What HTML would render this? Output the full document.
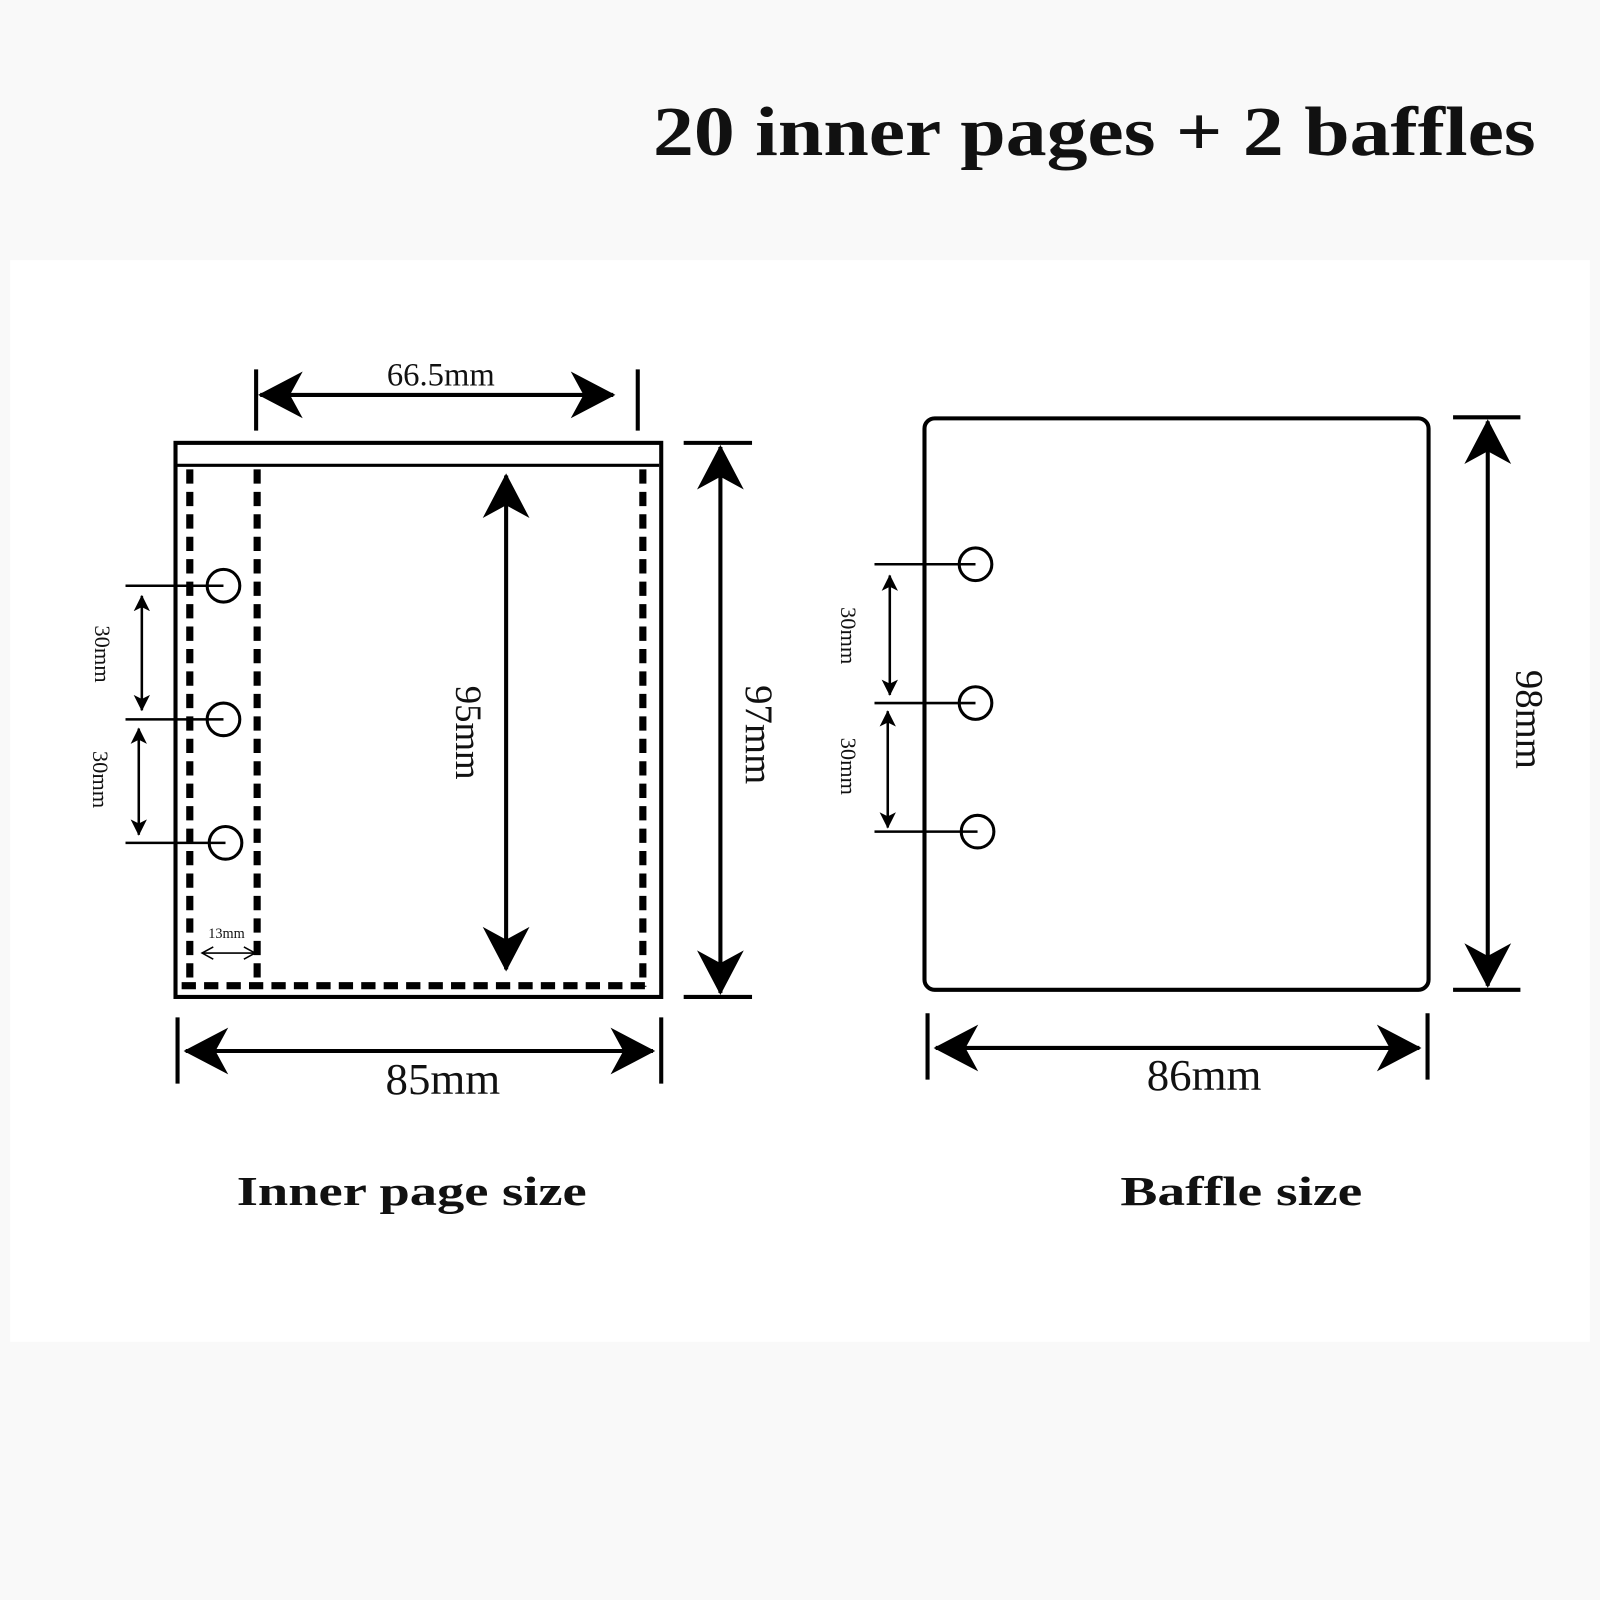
<!DOCTYPE html>
<html><head><meta charset="utf-8"><style>
html,body{margin:0;padding:0;background:#f9f9f9;}
svg{display:block;}
text{font-family:"Liberation Serif",serif;fill:#111;}
</style></head><body>
<svg width="1600" height="1600" viewBox="0 0 1568 1568" xmlns="http://www.w3.org/2000/svg">
<defs>
<marker id="ah" markerUnits="userSpaceOnUse" markerWidth="50" markerHeight="50" viewBox="0 -24 44 48" refX="40" refY="0" orient="auto-start-reverse">
<path d="M42,0 L0,-22 L12,0 L0,22 Z" fill="#000"/>
</marker>
<marker id="as" markerUnits="userSpaceOnUse" markerWidth="20" markerHeight="20" viewBox="0 -10 20 20" refX="15" refY="0" orient="auto-start-reverse">
<path d="M16,0 L0,-8 L4,0 L0,8 Z" fill="#000"/>
</marker>
<marker id="ao" markerUnits="userSpaceOnUse" markerWidth="14" markerHeight="14" viewBox="0 -7 14 14" refX="12" refY="0" orient="auto-start-reverse">
<path d="M1,-6 L12,0 L1,6" fill="none" stroke="#000" stroke-width="1.5"/>
</marker>
</defs>
<rect x="0" y="0" width="1568" height="1568" fill="#f9f9f9"/>
<rect x="10" y="255" width="1548" height="1060" fill="#fff"/>

<text x="640" y="152" font-size="68" font-weight="bold" textLength="865" lengthAdjust="spacingAndGlyphs">20 inner pages + 2 baffles</text>

<!-- LEFT -->
<g stroke="#000" fill="none">
<rect x="172" y="434" width="476" height="543" stroke-width="4"/>
<line x1="172" y1="456" x2="646" y2="456" stroke-width="3"/>
<g stroke-width="7" stroke-dasharray="14 8">
<line x1="186" y1="460" x2="186" y2="967"/>
<line x1="252" y1="460" x2="252" y2="967"/>
<line x1="630" y1="460" x2="630" y2="967"/>
<line x1="178" y1="966" x2="636" y2="966"/>
</g>
<g stroke-width="3">
<circle cx="219" cy="574" r="16"/><circle cx="219" cy="705" r="16"/><circle cx="221" cy="826" r="16"/>
<line x1="123" y1="574" x2="219" y2="574" stroke-width="2.5"/>
<line x1="123" y1="705" x2="219" y2="705" stroke-width="2.5"/>
<line x1="123" y1="826" x2="221" y2="826" stroke-width="2.5"/>
</g>
<line x1="139" y1="584" x2="139" y2="696" stroke-width="2.5" marker-start="url(#as)" marker-end="url(#as)"/>
<line x1="136" y1="714" x2="136" y2="818" stroke-width="2.5" marker-start="url(#as)" marker-end="url(#as)"/>
<line x1="198" y1="934" x2="250" y2="934" stroke-width="1.5" marker-start="url(#ao)" marker-end="url(#ao)"/>
<line x1="496" y1="466" x2="496" y2="950" stroke-width="4" marker-start="url(#ah)" marker-end="url(#ah)"/>
<line x1="251" y1="362" x2="251" y2="422" stroke-width="4"/>
<line x1="625" y1="362" x2="625" y2="422" stroke-width="4"/>
<line x1="255" y1="387" x2="601" y2="387" stroke-width="4" marker-start="url(#ah)" marker-end="url(#ah)"/>
<line x1="670" y1="434" x2="737" y2="434" stroke-width="4"/>
<line x1="670" y1="977" x2="737" y2="977" stroke-width="4"/>
<line x1="706" y1="438" x2="706" y2="973" stroke-width="4" marker-start="url(#ah)" marker-end="url(#ah)"/>
<line x1="174" y1="997" x2="174" y2="1062" stroke-width="4"/>
<line x1="648" y1="997" x2="648" y2="1062" stroke-width="4"/>
<line x1="182" y1="1030" x2="640" y2="1030" stroke-width="4" marker-start="url(#ah)" marker-end="url(#ah)"/>
</g>
<text x="432" y="378" font-size="32" text-anchor="middle">66.5mm</text>
<text x="222" y="919" font-size="14" text-anchor="middle">13mm</text>
<text transform="translate(93,641) rotate(90)" font-size="22" text-anchor="middle">30mm</text>
<text transform="translate(91,764) rotate(90)" font-size="22" text-anchor="middle">30mm</text>
<text transform="translate(447,718) rotate(90)" font-size="36" text-anchor="middle">95mm</text>
<text transform="translate(731,720) rotate(90)" font-size="38" text-anchor="middle">97mm</text>
<text x="434" y="1072" font-size="44" text-anchor="middle">85mm</text>
<text x="232" y="1181" font-size="40" font-weight="bold" textLength="343" lengthAdjust="spacingAndGlyphs">Inner page size</text>

<!-- RIGHT -->
<g stroke="#000" fill="none">
<rect x="906" y="410" width="494" height="560" rx="10" stroke-width="4"/>
<g stroke-width="3">
<circle cx="956" cy="553" r="16"/><circle cx="956" cy="689" r="16"/><circle cx="958" cy="815" r="16"/>
<line x1="857" y1="553" x2="956" y2="553" stroke-width="2.5"/>
<line x1="857" y1="689" x2="956" y2="689" stroke-width="2.5"/>
<line x1="857" y1="815" x2="958" y2="815" stroke-width="2.5"/>
</g>
<line x1="872" y1="564" x2="872" y2="681" stroke-width="2.5" marker-start="url(#as)" marker-end="url(#as)"/>
<line x1="870" y1="697" x2="870" y2="811" stroke-width="2.5" marker-start="url(#as)" marker-end="url(#as)"/>
<line x1="1424" y1="409" x2="1490" y2="409" stroke-width="4"/>
<line x1="1424" y1="970" x2="1490" y2="970" stroke-width="4"/>
<line x1="1458" y1="413" x2="1458" y2="966" stroke-width="4" marker-start="url(#ah)" marker-end="url(#ah)"/>
<line x1="909" y1="993" x2="909" y2="1058" stroke-width="4"/>
<line x1="1399" y1="993" x2="1399" y2="1058" stroke-width="4"/>
<line x1="917" y1="1027" x2="1391" y2="1027" stroke-width="4" marker-start="url(#ah)" marker-end="url(#ah)"/>
</g>
<text transform="translate(824,623) rotate(90)" font-size="22" text-anchor="middle">30mm</text>
<text transform="translate(824,751) rotate(90)" font-size="22" text-anchor="middle">30mm</text>
<text transform="translate(1486,705) rotate(90)" font-size="38" text-anchor="middle">98mm</text>
<text x="1180" y="1068" font-size="44" text-anchor="middle">86mm</text>
<text x="1098" y="1181" font-size="40" font-weight="bold" textLength="237" lengthAdjust="spacingAndGlyphs">Baffle size</text>
</svg>
</body></html>
